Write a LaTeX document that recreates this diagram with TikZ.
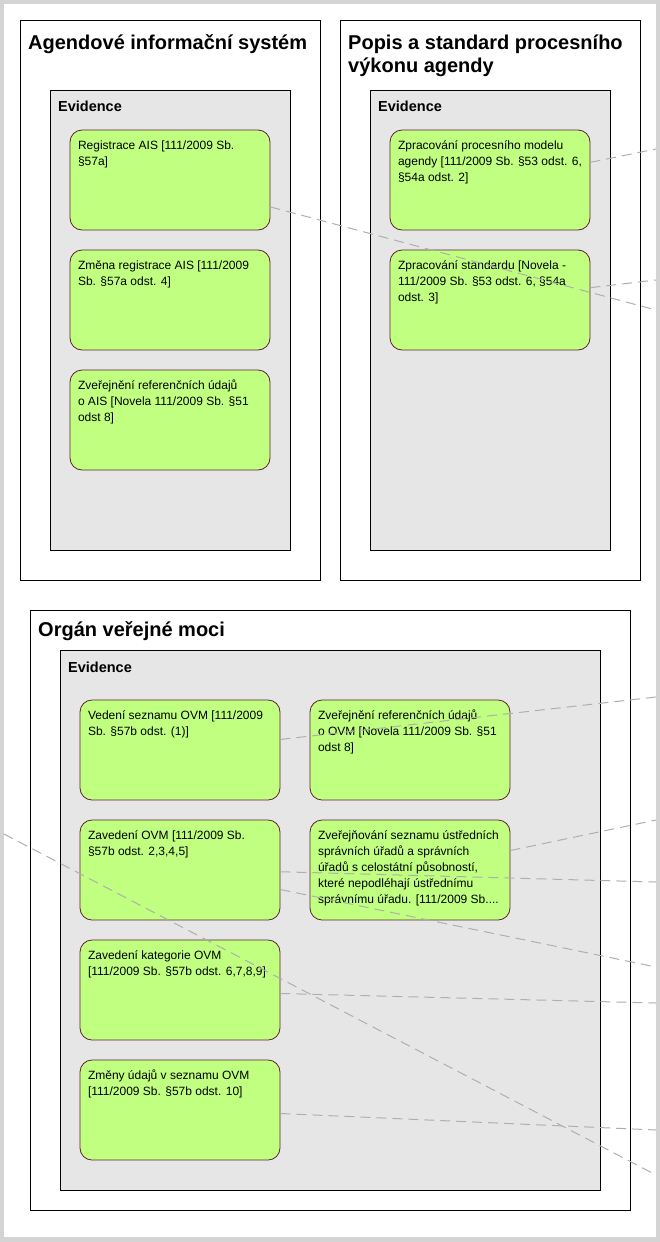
\documentclass[tikz,border=0pt]{standalone}
\usepackage{fontspec}
\setmainfont{Liberation Sans}
\usetikzlibrary{positioning}

\definecolor{rimgray}{RGB}{212,212,212}
\definecolor{evidgray}{RGB}{230,230,230}
\definecolor{actgreen}{RGB}{192,255,128}
\definecolor{actborder}{RGB}{96,32,48}
\definecolor{linkgray}{RGB}{175,175,175}

\newcommand{\acttext}[1]{\parbox[t][84pt][t]{184pt}{\raggedright\strut #1}}

\begin{document}
\begin{tikzpicture}[x=1pt, y=-1pt, node distance=120pt,
	frame/.style = {draw, fill=white, line width=1pt, anchor=north west, inner sep=0pt},
	evid/.style = {draw, fill=evidgray, line width=1pt, anchor=north west, inner sep=0pt},
	title/.style = {anchor=base west, inner sep=0pt, align=left, font=\fontsize{20}{23}\selectfont\bfseries},
	evlabel/.style = {anchor=base west, inner sep=0pt, font=\fontsize{14.5}{17}\selectfont\bfseries},
	act/.style = {draw=actborder, fill=actgreen, rounded corners=12pt, line width=0.8pt, inner sep=8pt, minimum width=200pt, minimum height=100pt, font=\fontsize{12}{16}\selectfont},
	link/.style = {draw=linkgray, line width=1pt, dash pattern=on 10pt off 6pt}]
	\useasboundingbox (0,0) rectangle (660,1242);
	\fill[rimgray] (0,0) rectangle (660,1242);
	\fill[white] (4,4) rectangle (656,1237);

	% Agendove informacni system
	\node[frame, minimum width=300pt, minimum height=560pt] (ais) at (20,20) {};
	\node[title] (aistitle) at (28,49) {Agendové informační systém};
	\node[evid, minimum width=240pt, minimum height=460pt] (aisev) at (50,90) {};
	\node[evlabel] (aisevl) at (58,111) {Evidence};
	\node[act] (reg) at (170,180) {\acttext{Registrace AIS [111/2009 Sb.\\§57a]}};
	\node[act] (zreg) [below of=reg] {\acttext{Změna registrace AIS [111/2009\\Sb. §57a odst. 4]}};
	\node[act] (zvais) [below of=zreg] {\acttext{Zveřejnění referenčních údajů\\o AIS [Novela 111/2009 Sb. §51\\odst 8]}};

	% Popis a standard
	\node[frame, minimum width=300pt, minimum height=560pt] (popis) at (340,20) {};
	\node[title] (popistitle) at (348,72) {Popis a standard procesního\\výkonu agendy};
	\node[evid, minimum width=240pt, minimum height=460pt] (popisev) at (370,90) {};
	\node[evlabel] (popisevl) at (378,111) {Evidence};
	\node[act] (zpm) at (490,180) {\acttext{Zpracování procesního modelu\\agendy [111/2009 Sb. §53 odst. 6,\\§54a odst. 2]}};
	\node[act] (zst) [below of=zpm] {\acttext{Zpracování standardu [Novela -\\111/2009 Sb. §53 odst. 6, §54a\\odst. 3]}};

	% Organ verejne moci
	\node[frame, minimum width=600pt, minimum height=600pt] (ovm) at (30,610) {};
	\node[title] (ovmtitle) at (38,636) {Orgán veřejné moci};
	\node[evid, minimum width=540pt, minimum height=540pt] (ovmev) at (60,650) {};
	\node[evlabel] (ovmevl) at (68,672) {Evidence};
	\node[act] (ved) at (180,750) {\acttext{Vedení seznamu OVM [111/2009\\Sb. §57b odst. (1)]}};
	\node[act] (zvovm) [right of=ved, node distance=230pt] {\acttext{Zveřejnění referenčních údajů\\o OVM [Novela 111/2009 Sb. §51\\odst 8]}};
	\node[act] (zav) [below of=ved] {\acttext{Zavedení OVM [111/2009 Sb.\\§57b odst. 2,3,4,5]}};
	\node[act] (zsez) [below of=zvovm] {\acttext{Zveřejňování seznamu ústředních\\správních úřadů a správních\\úřadů s celostátní působností,\\které nepodléhají ústřednímu\\správnímu úřadu. [111/2009 Sb....}};
	\node[act] (kat) [below of=zav] {\acttext{Zavedení kategorie OVM\\{[}111/2009 Sb. §57b odst. 6,7,8,9]}};
	\node[act] (zmen) [below of=kat] {\acttext{Změny údajů v seznamu OVM\\{[}111/2009 Sb. §57b odst. 10]}};

	% links leaving the picture
	\coordinate (e1) at (656,310);
	\coordinate (e2) at (656,149);
	\coordinate (e3) at (656,280);
	\coordinate (e4) at (656,697);
	\coordinate (e5) at (656,820);
	\coordinate (e6) at (656,882);
	\coordinate (e7) at (656,967);
	\coordinate (w8) at (4,834);
	\coordinate (e8) at (656,1175);
	\coordinate (e9) at (656,1003);
	\coordinate (e10) at (656,1130);

	\draw[link] (reg.-15) -- (e1);
	\draw[link] (zpm.10) -- (e2);
	\draw[link] (zst.7) -- (e3);
	\draw[link] (ved.6) -- (e4);
	\draw[link] (zsez.11) -- (e5);
	\draw[link] (zav.-1) -- (e6);
	\draw[link] (zav.-11) -- (e7);
	\draw[link] (w8) -- (e8);
	\draw[link] (kat.-2) -- (e9);
	\draw[link] (zmen.-2) -- (e10);
\end{tikzpicture}
\end{document}
